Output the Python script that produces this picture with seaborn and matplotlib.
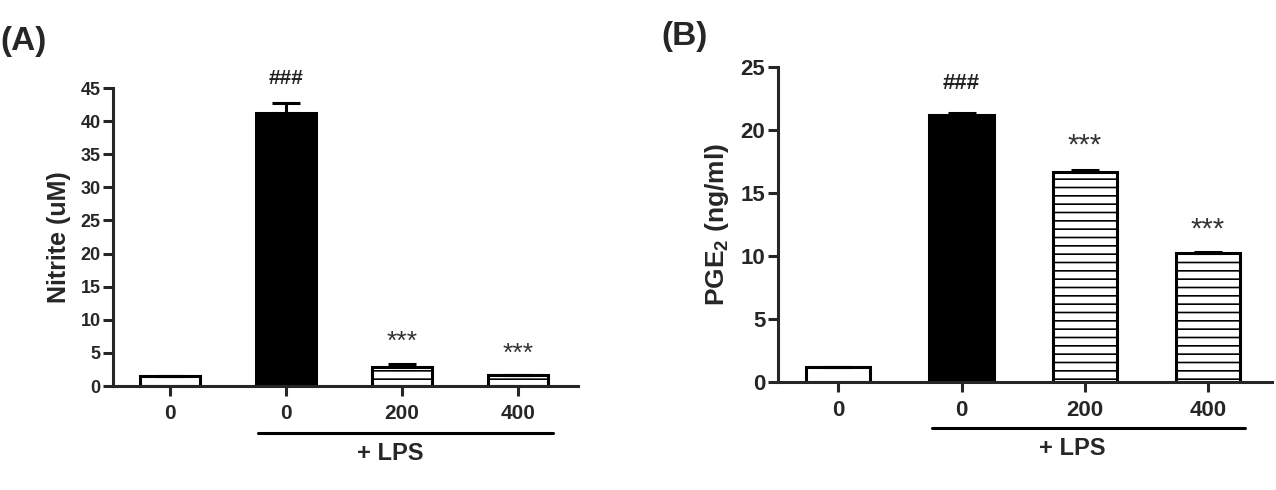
import matplotlib
matplotlib.use("Agg")
import matplotlib.pyplot as plt
import matplotlib.transforms as mtransforms
import seaborn as sns
import pandas as pd

# data
groups = ["ctrl", "lps0", "lps200", "lps400"]
dose_labels = ["0", "0", "200", "400"]
nitrite = [1.5, 41.2, 2.9, 1.7]
nitrite_err = [0.0, 1.6, 0.35, 0.0]
pge2 = [1.2, 21.2, 16.7, 10.2]
pge2_err = [0.0, 0.15, 0.15, 0.12]
marks_a = ["", "###", "***", "***"]
marks_b = ["", "###", "***", "***"]

sns.set_theme(style="ticks")
plt.rcParams["font.family"] = ["Liberation Sans", "DejaVu Sans"]
plt.rcParams["font.weight"] = "bold"
plt.rcParams["mathtext.fontset"] = "custom"
plt.rcParams["mathtext.rm"] = "Liberation Sans"
plt.rcParams["mathtext.it"] = "Liberation Sans:italic"
plt.rcParams["mathtext.bf"] = "Liberation Sans:bold"
plt.rcParams["hatch.linewidth"] = 1.2

colors = ["white", "black", "white", "white"]
hatches = [None, None, "--", "--"]


def draw_panel(ax, values, errs, marks, ylabel, ymax, ystep, mark_y, fs_tick_y, fs_tick_x,
               fs_hash, fs_star, fs_label, line_y, text_y):
    df = pd.DataFrame({"group": groups, "value": values})
    sns.barplot(data=df, x="group", y="value", hue="group", order=groups,
                palette=dict(zip(groups, colors)), edgecolor="black", linewidth=2.2,
                width=0.52, legend=False, ax=ax)
    for patch, h in zip(ax.patches, hatches):
        if h:
            patch.set_hatch(h)
    # upward-only error bars
    ax.errorbar(range(len(values)), values, yerr=[[0] * len(errs), errs], fmt="none",
                ecolor="black", elinewidth=2.2, capsize=10, capthick=2.2, zorder=1)
    for i, (m, y) in enumerate(zip(marks, mark_y)):
        if m == "###":
            ax.text(i, y, m, ha="center", va="center", fontsize=fs_hash,
                    fontweight="bold", color="#222222", clip_on=False)
        elif m:
            ax.text(i, y, m, ha="center", va="center", fontsize=fs_star,
                    fontweight="normal", color="#333333", clip_on=False)
    ax.set_ylim(0, ymax)
    ax.set_xlim(-0.49, 3.52)
    ax.set_yticks(range(0, ymax + 1, ystep))
    ax.set_xticks(range(4))
    ax.set_xticklabels(dose_labels)
    ax.set_xlabel("")
    ax.set_ylabel(ylabel, fontsize=fs_label, fontweight="bold", labelpad=7)
    ax.tick_params(axis="y", labelsize=fs_tick_y, width=2.2, length=7, direction="out", pad=2)
    ax.tick_params(axis="x", labelsize=fs_tick_x, width=2.2, length=7, direction="out", pad=6)
    for lab in ax.get_xticklabels() + ax.get_yticklabels():
        lab.set_fontweight("bold")
    sns.despine(ax=ax)
    for side in ["left", "bottom"]:
        ax.spines[side].set_linewidth(2.2)
    trans = mtransforms.blended_transform_factory(ax.transData, ax.transAxes)
    ax.plot([0.76, 3.3], [line_y, line_y], color="black", lw=2.2, transform=trans, clip_on=False)
    ax.text(1.9, text_y, "+ LPS", ha="center", va="center", fontsize=17,
            fontweight="bold", transform=trans)


fig = plt.figure(figsize=(12.76, 4.9), dpi=100)
ax_a = fig.add_axes([0.0886, 0.2122, 0.3644, 0.6082])
ax_b = fig.add_axes([0.6097, 0.2204, 0.3871, 0.6429])

draw_panel(ax_a, nitrite, nitrite_err, marks_a, "Nitrite (uM)", 45, 5,
           [0, 46.5, 6.6, 4.8], 13, 15, 15, 19, 18, -0.158, -0.225)
draw_panel(ax_b, pge2, pge2_err, marks_b, "PGE$_2$ (ng/ml)", 25, 5,
           [0, 23.7, 18.8, 12.1], 16, 16, 16, 21, 19, -0.146, -0.21)

fig.text(0.0, 0.915, "(A)", fontsize=24, fontweight="bold", va="center", ha="left")
fig.text(0.518, 0.925, "(B)", fontsize=24, fontweight="bold", va="center", ha="left")

fig.savefig("out.png", dpi=100, facecolor="white")
